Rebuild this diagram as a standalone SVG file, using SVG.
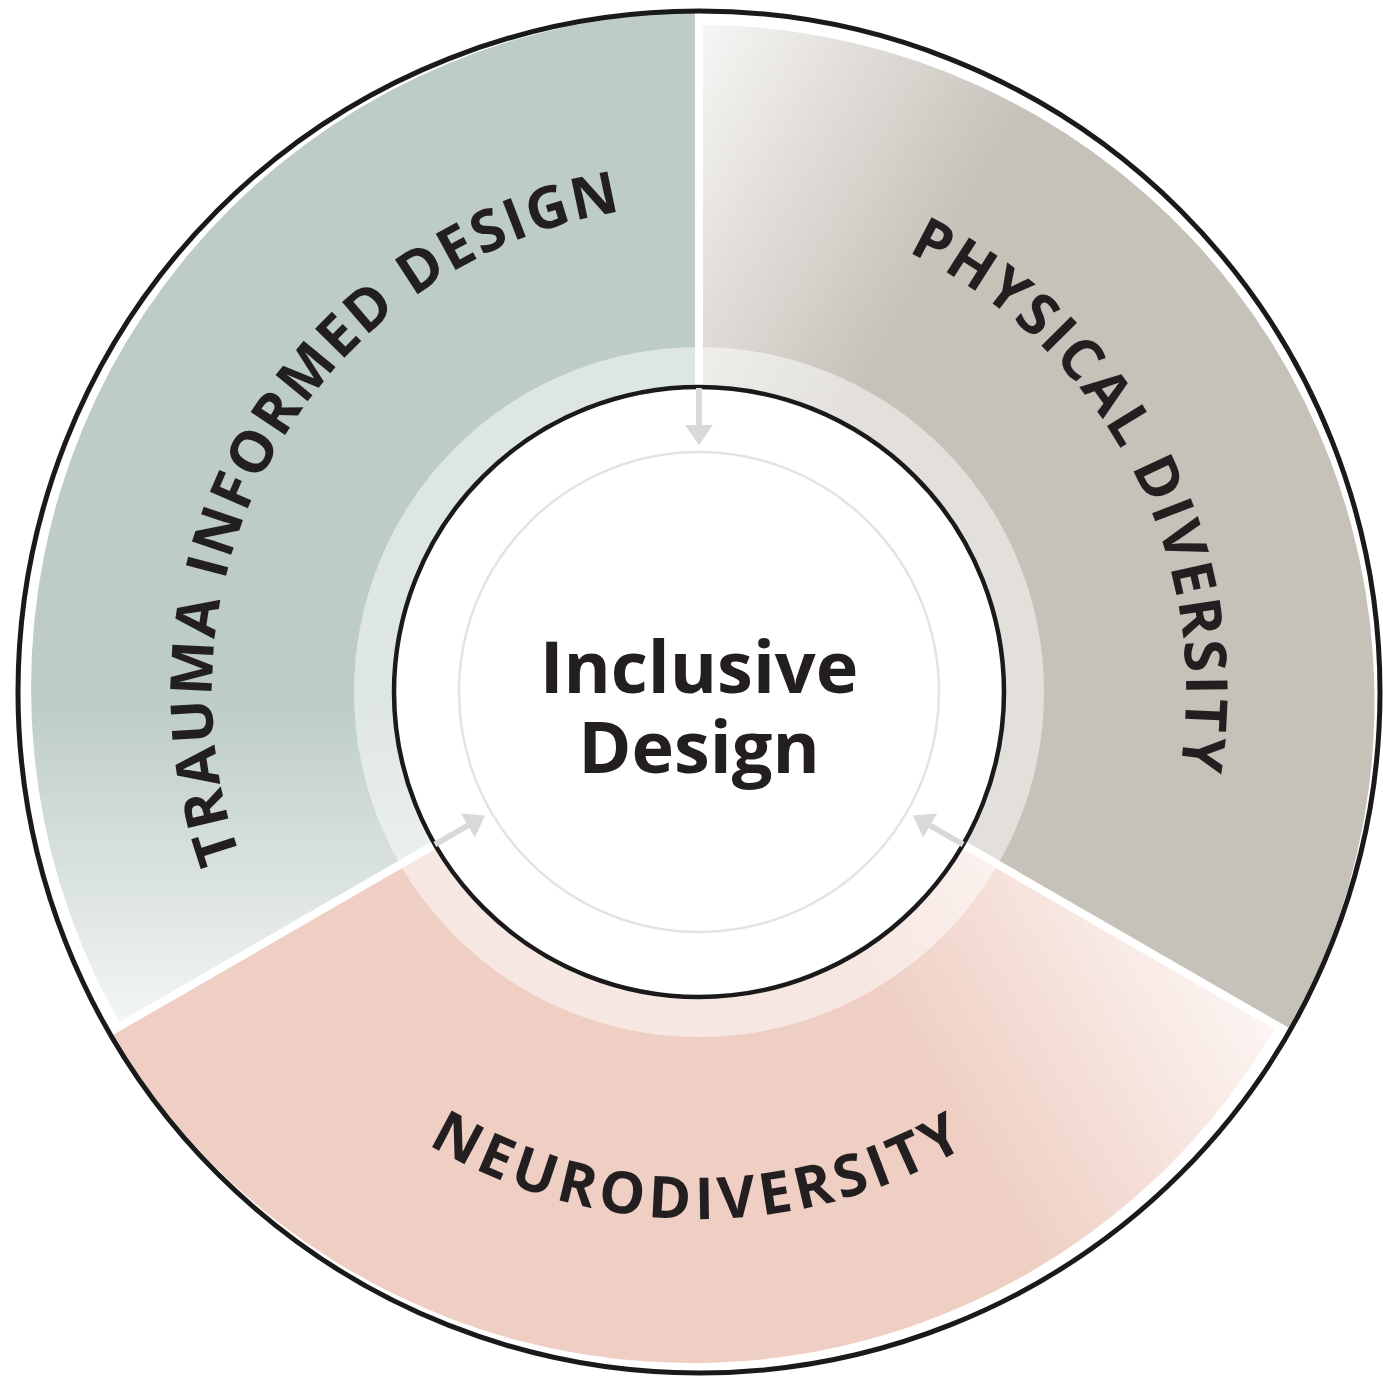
<svg xmlns="http://www.w3.org/2000/svg" xmlns:xlink="http://www.w3.org/1999/xlink" width="1383" height="1377" viewBox="0 0 1383 1377">
  <style>
    .label { font-family: "Open Sans", "Liberation Sans", sans-serif; font-weight: 700; font-size: 58px; fill: #231f20; }
    .title { font-family: "Open Sans", "Liberation Sans", sans-serif; font-weight: 700; font-size: 72px; fill: #231f20; }
    .divider { stroke: #ffffff; stroke-width: 8; }
    .arrow { stroke: #d9d9d9; stroke-width: 6; fill: none; marker-end: url(#head); }
  </style>
  <defs>
    <!-- wedge covering 150deg..270deg around the hub; rotated copies reuse it -->
    <clipPath id="wedge" clipPathUnits="userSpaceOnUse">
      <polygon points="699,692 -167,1192 -167,192 699,-308"/>
    </clipPath>
    <!-- each sector fades to white toward its leading edge -->
    <linearGradient id="gTeal" gradientUnits="userSpaceOnUse" x1="0" y1="700" x2="0" y2="1045">
      <stop offset="0" stop-color="#bdccc9"/>
      <stop offset="1" stop-color="#f6f8f8"/>
    </linearGradient>
    <linearGradient id="gGray" gradientUnits="userSpaceOnUse" x1="0" y1="700" x2="0" y2="1045">
      <stop offset="0" stop-color="#c6c1b9"/>
      <stop offset="1" stop-color="#fbfaf9"/>
    </linearGradient>
    <linearGradient id="gPink" gradientUnits="userSpaceOnUse" x1="0" y1="700" x2="0" y2="1045">
      <stop offset="0" stop-color="#efcfc4"/>
      <stop offset="1" stop-color="#fdf8f6"/>
    </linearGradient>
    <marker id="head" markerUnits="userSpaceOnUse" markerWidth="22" markerHeight="30" refX="0" refY="14" orient="auto">
      <path d="M0,0 L20,14 L0,28 Z" fill="#d9d9d9"/>
    </marker>
    <path id="arcTrauma" d="M 277.2 935.5 A 487 487 0 0 1 699 205"/>
    <path id="arcPhysical" d="M 699 205 A 487 487 0 0 1 1120.8 935.5"/>
    <path id="arcNeuro" d="M 242.6 955.5 A 527 527 0 0 0 1155.4 955.5"/>
  </defs>

  <rect width="1383" height="1377" fill="#ffffff"/>

  <!-- outer sectors -->
  <g id="trauma-informed-design">
    <g clip-path="url(#wedge)">
      <circle cx="707" cy="688" r="676" fill="url(#gTeal)"/>
    </g>
    <text class="label" letter-spacing="2.2"><textPath href="#arcTrauma" xlink:href="#arcTrauma" startOffset="50.5%" text-anchor="middle">TRAUMA INFORMED DESIGN</textPath></text>
  </g>

  <g id="physical-diversity">
    <g transform="rotate(120 699 692)" clip-path="url(#wedge)">
      <circle cx="707" cy="688" r="676" fill="url(#gGray)"/>
    </g>
    <text class="label" letter-spacing="2.5"><textPath href="#arcPhysical" xlink:href="#arcPhysical" startOffset="52%" text-anchor="middle">PHYSICAL DIVERSITY</textPath></text>
  </g>

  <g id="neurodiversity">
    <g transform="rotate(240 699 692)" clip-path="url(#wedge)">
      <circle cx="707" cy="688" r="676" fill="url(#gPink)"/>
    </g>
    <text class="label" letter-spacing="5"><textPath href="#arcNeuro" xlink:href="#arcNeuro" startOffset="50%" text-anchor="middle">NEURODIVERSITY</textPath></text>
  </g>

  <!-- lighter band around the hub -->
  <circle cx="699" cy="692" r="325" fill="none" stroke="#ffffff" stroke-opacity="0.5" stroke-width="40"/>

  <!-- white separators between sectors -->
  <g id="dividers">
    <line class="divider" x1="699" y1="387" x2="699" y2="0"/>
    <line class="divider" x1="434.9" y1="844.5" x2="101.4" y2="1037"/>
    <line class="divider" x1="963.1" y1="844.5" x2="1296.6" y2="1037"/>
  </g>

  <!-- outer ring -->
  <circle cx="699" cy="692" r="681" fill="none" stroke="#1a1a1a" stroke-width="5"/>

  <!-- hub -->
  <g id="inclusive-design">
    <circle cx="699" cy="692" r="305" fill="#ffffff" stroke="#1a1a1a" stroke-width="4.5"/>
    <circle cx="699" cy="692" r="240" fill="none" stroke="#e3e3e3" stroke-width="2.5"/>
    <text class="title" text-anchor="middle"><tspan x="699" y="693">Inclusive</tspan><tspan x="699" y="773">Design</tspan></text>
  </g>

  <!-- arrows from each sector into the hub -->
  <g id="connectors">
    <line class="arrow" x1="699" y1="388" x2="699" y2="425"/>
    <line class="arrow" x1="434.9" y1="844.5" x2="467.8" y2="825.5"/>
    <line class="arrow" x1="963.1" y1="844.5" x2="930.2" y2="825.5"/>
  </g>
</svg>
